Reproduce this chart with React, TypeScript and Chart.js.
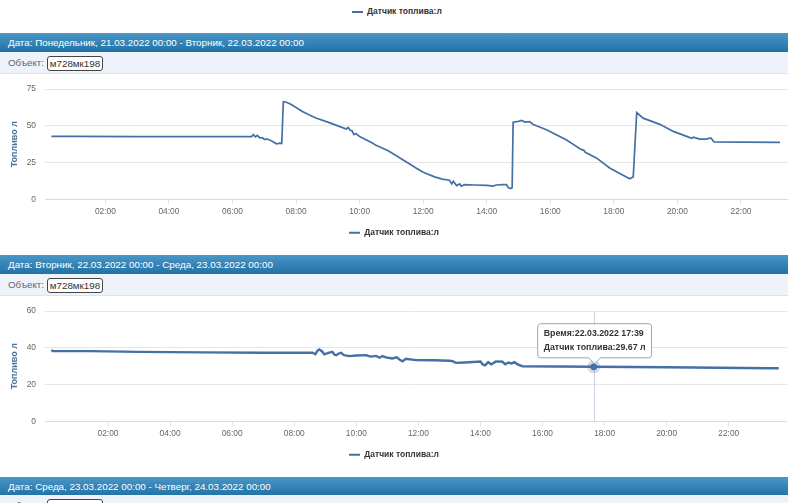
import React, { useEffect, useRef } from "react";
import { Chart, registerables } from "chart.js";

Chart.register(...registerables);

const SERIES_LABEL = "Датчик топлива:л";
const Y_TITLE = "Топливо л";
const OBJECT_LABEL = "Объект:";
const OBJECT_NAME = "м728мк198";
const HEADERS = [
  "Дата: Понедельник, 21.03.2022 00:00 - Вторник, 22.03.2022 00:00",
  "Дата: Вторник, 22.03.2022 00:00 - Среда, 23.03.2022 00:00",
  "Дата: Среда, 23.03.2022 00:00 - Четверг, 24.03.2022 00:00",
];
const TICK_HOURS = [2, 4, 6, 8, 10, 12, 14, 16, 18, 20, 22];

// Day 1: 21.03.2022
const DAY1_HOURS = [
  0.3, 1.0, 3.0, 5.0, 6.6, 6.65, 6.72, 6.78, 6.85, 6.95, 7.0, 7.1, 7.25, 7.38, 7.5, 7.55,
  7.6, 7.7, 7.85, 8.2, 8.6, 9.0, 9.4, 9.58, 9.64, 9.7, 9.76, 9.82, 9.88, 10.0, 10.4, 10.5,
  10.9, 11.36, 11.8, 12.0, 12.36, 12.6, 12.83, 12.9, 12.95, 13.05, 13.15, 13.2, 13.3, 13.6,
  14.0, 14.2, 14.3, 14.5, 14.62, 14.68, 14.75, 14.8, 14.83, 15.0, 15.1, 15.2, 15.35, 15.45,
  15.88, 16.5, 16.98, 17.05, 17.1, 17.45, 17.87, 18.2, 18.5, 18.61, 18.72, 18.92, 19.45,
  19.87, 20.29, 20.45, 20.5, 20.7, 20.9, 21.05, 21.1, 21.15, 22.0, 23.23,
];
const DAY1_FUEL = [
  42.8, 42.8, 42.7, 42.6, 42.6, 44.0, 42.5, 43.5, 42.0, 41.8, 40.8, 41.0, 39.5, 37.8, 38.2, 38.0,
  66.4, 66.0, 64.5, 59.7, 55.5, 52.5, 49.3, 47.8, 48.8, 47.0, 46.6, 44.0, 44.8, 42.8, 38.3, 37.0,
  33.0, 27.0, 21.0, 18.5, 15.3, 13.8, 13.0, 10.5, 12.3, 9.4, 10.5, 9.0, 10.0, 9.8,
  9.6, 9.0, 9.8, 10.1, 10.0, 8.0, 7.4, 8.0, 52.5, 53.0, 53.6, 52.5, 52.8, 51.1,
  47.3, 40.5, 33.8, 33.5, 32.0, 28.2, 21.4, 17.5, 14.0, 15.3, 59.0, 55.2, 51.0,
  46.2, 42.8, 41.5, 42.3, 41.0, 41.0, 41.8, 40.5, 39.0, 38.9, 38.7,
];
const DAY1_Y_TICKS = [0, 25, 50, 75];
const DAY1_X_MIN = 0.1;
const DAY1_X_MAX = 23.48;

// Day 2: 22.03.2022
const DAY2_HOURS = [
  0.18, 0.22, 1.41, 3.0, 5.0, 7.0, 8.59, 8.68, 8.75, 8.81, 8.9, 8.97, 9.1, 9.23, 9.3, 9.35,
  9.45, 9.51, 9.6, 9.78, 10.0, 10.32, 10.45, 10.64, 10.75, 10.84, 10.95, 11.16, 11.3, 11.4,
  11.49, 11.6, 11.92, 12.5, 13.0, 13.1, 13.21, 13.5, 14.0, 14.07, 14.15, 14.25, 14.35, 14.5,
  14.71, 14.8, 14.9, 15.0, 15.1, 15.2, 15.35, 17.65, 20.0, 23.29, 23.61,
];
const DAY2_FUEL = [
  38.9, 38.2, 38.2, 37.8, 37.5, 37.3, 37.3, 36.5, 38.5, 39.1, 38.0, 36.4, 37.2, 37.8, 36.2, 36.0,
  37.0, 37.3, 36.0, 35.5, 35.8, 36.0, 35.2, 35.6, 34.6, 35.5, 34.8, 34.2, 34.8, 33.5,
  32.7, 34.0, 33.3, 33.2, 33.0, 32.7, 31.8, 32.0, 32.5, 31.0, 30.5, 32.2, 31.0, 32.6,
  32.4, 31.0, 32.0, 31.5, 32.2, 31.0, 30.0, 29.67, 29.4, 28.9, 28.9,
];
const DAY2_Y_TICKS = [0, 20, 40, 60];
const DAY2_X_MIN = -0.03;
const DAY2_X_MAX = 23.87;
const DAY2_TOOLTIP_DATE = "22.03.2022";
const DAY2_TOOLTIP_HOUR = 17.65;

const LINE_COLOR = "#4470a5";
const FONT = "'Liberation Sans', Arial, sans-serif";

Chart.defaults.font.family = FONT;

const pad2 = (n: number) => String(n).padStart(2, "0");
const hourLabel = (h: number) => {
  const mins = Math.round(h * 60);
  return `${pad2(Math.floor(mins / 60))}:${pad2(mins % 60)}`;
};

const hoverMarkPlugin = {
  id: "hoverMark",
  beforeDatasetsDraw(chart: any) {
    const act = chart.getActiveElements();
    if (!act.length) return;
    const el = act[0].element;
    const { ctx, chartArea } = chart;
    ctx.save();
    ctx.strokeStyle = "#c9d3e2";
    ctx.lineWidth = 1;
    ctx.beginPath();
    const x = Math.round(el.x) + 0.5;
    ctx.moveTo(x, chartArea.top);
    ctx.lineTo(x, chartArea.bottom);
    ctx.stroke();
    ctx.fillStyle = "rgba(68,112,165,0.25)";
    ctx.beginPath();
    ctx.arc(el.x, el.y, 6.5, 0, Math.PI * 2);
    ctx.fill();
    ctx.restore();
  },
};

type FuelProps = {
  hours: number[];
  fuel: number[];
  yTicks: number[];
  xMin: number;
  xMax: number;
  lineWidth: number;
  tooltipHour?: number;
  tooltipDate?: string;
};

function FuelChart(p: FuelProps) {
  const ref = useRef<HTMLCanvasElement>(null);
  useEffect(() => {
    const data = p.hours.map((h, i) => ({ x: h, y: p.fuel[i] }));
    const chart = new Chart(ref.current!, {
      type: "line",
      data: {
        datasets: [
          {
            label: SERIES_LABEL,
            data,
            borderColor: LINE_COLOR,
            backgroundColor: LINE_COLOR,
            borderWidth: p.lineWidth,
            pointRadius: 0,
            pointHoverRadius: 3,
            pointHoverBackgroundColor: LINE_COLOR,
            pointHoverBorderColor: LINE_COLOR,
            pointHoverBorderWidth: 1,
            tension: 0,
            fill: false,
          },
        ],
      },
      options: {
        responsive: false,
        animation: false,
        events: [],
        layout: { padding: { top: 15, left: 0, right: 0, bottom: 8 } },
        scales: {
          x: {
            type: "linear",
            min: p.xMin,
            max: p.xMax,
            afterBuildTicks: (s: any) => {
              s.ticks = TICK_HOURS.map((v) => ({ value: v }));
            },
            ticks: {
              callback: (v: any) => hourLabel(Number(v)),
              font: { size: 8.4 },
              color: "#666",
              padding: 2,
              maxRotation: 0,
              autoSkip: false,
            },
            grid: { drawOnChartArea: false, drawTicks: true, tickLength: 5, color: "#dde3ec" },
            border: { display: true, color: "#d3dbe6" },
          },
          y: {
            min: 0,
            max: p.yTicks[p.yTicks.length - 1],
            afterBuildTicks: (s: any) => {
              s.ticks = p.yTicks.map((v) => ({ value: v }));
            },
            afterFit: (s: any) => {
              s.width = 45;
            },
            ticks: { font: { size: 8.4 }, color: "#666", padding: 9 },
            grid: { color: "#e6e6e6", drawTicks: false },
            border: { display: false },
            title: {
              display: true,
              text: Y_TITLE,
              color: "#4d759e",
              font: { size: 9, weight: "bold" },
              padding: { top: 9, bottom: 0 },
            },
          },
        },
        plugins: {
          legend: {
            position: "bottom",
            labels: {
              boxWidth: 11,
              boxHeight: 2,
              color: "#333",
              font: { size: 8.5, weight: "bold" },
              padding: 10,
              generateLabels: (c: any) =>
                c.data.datasets.map((ds: any, i: number) => ({
                  text: ds.label,
                  fillStyle: LINE_COLOR,
                  strokeStyle: LINE_COLOR,
                  lineWidth: 0,
                  hidden: false,
                  datasetIndex: i,
                  fontColor: "#333",
                })),
            },
          },
          tooltip: {
            enabled: true,
            yAlign: "bottom",
            xAlign: "center",
            backgroundColor: "rgba(255,255,255,0.93)",
            borderColor: "#8ea6c8",
            borderWidth: 1,
            cornerRadius: 3,
            caretSize: 6,
            caretPadding: 3,
            padding: { x: 6, y: 5 },
            displayColors: false,
            titleColor: "#333",
            bodyColor: "#333",
            titleFont: { size: 8.8, weight: "bold" },
            bodyFont: { size: 8.8, weight: "bold" },
            titleMarginBottom: 3,
            callbacks: {
              title: (items: any[]) =>
                `Время:${p.tooltipDate} ${hourLabel(items[0].parsed.x)}`,
              label: (item: any) => `Датчик топлива:${item.parsed.y.toFixed(2)} л`,
            },
          },
        },
      },
      plugins: [hoverMarkPlugin],
    } as any);
    if (p.tooltipHour !== undefined) {
      const idx = p.hours.indexOf(p.tooltipHour);
      const els = [{ datasetIndex: 0, index: idx }];
      chart.setActiveElements(els);
      chart.tooltip!.setActiveElements(els, { x: 0, y: 0 });
      chart.update();
    }
    return () => chart.destroy();
  }, []);
  return (
    <canvas
      ref={ref}
      width={788}
      height={181}
      style={{ display: "block", width: 788, height: 181 }}
    />
  );
}

const textFont = `9.8px ${FONT}`;

function Header({ top, text }: { top: number; text: string }) {
  return (
    <div
      style={{
        position: "absolute",
        left: 0,
        top,
        width: 788,
        height: 19,
        background: "linear-gradient(#4a97c8, #2271a6)",
        color: "#fff",
        font: textFont,
        lineHeight: "19px",
        paddingLeft: 8,
        boxSizing: "border-box",
        whiteSpace: "nowrap",
      }}
    >
      {text}
    </div>
  );
}

function ObjectBar({ top }: { top: number }) {
  return (
    <div
      style={{
        position: "absolute",
        left: 0,
        top,
        width: 788,
        height: 22,
        background: "#edf2fb",
        borderBottom: "1px solid #dde3ec",
        boxSizing: "border-box",
        font: textFont,
      }}
    >
      <span style={{ position: "absolute", left: 8, top: 0, lineHeight: "21px", color: "#666" }}>
        {OBJECT_LABEL}
      </span>
      <span
        style={{
          position: "absolute",
          left: 47,
          top: 4,
          width: 56,
          height: 15,
          border: "1px solid #444",
          borderRadius: 3,
          background: "#fff",
          boxSizing: "border-box",
          textAlign: "center",
          lineHeight: "13px",
          color: "#333",
        }}
      >
        {OBJECT_NAME}
      </span>
    </div>
  );
}

function TopLegend() {
  return (
    <>
      <div
        style={{ position: "absolute", left: 352, top: 11, width: 11, height: 2, background: LINE_COLOR }}
      />
      <span
        style={{
          position: "absolute",
          left: 367,
          top: 6,
          lineHeight: "12px",
          font: `bold 8.5px ${FONT}`,
          color: "#333",
          whiteSpace: "nowrap",
        }}
      >
        {SERIES_LABEL}
      </span>
    </>
  );
}

export default function App() {
  return (
    <div
      style={{
        position: "absolute",
        left: 0,
        top: 0,
        width: 788,
        height: 503,
        overflow: "hidden",
        background: "#fff",
      }}
    >
      <TopLegend />
      <Header top={33} text={HEADERS[0]} />
      <ObjectBar top={52} />
      <div style={{ position: "absolute", left: 0, top: 74 }}>
        <FuelChart
          hours={DAY1_HOURS}
          fuel={DAY1_FUEL}
          yTicks={DAY1_Y_TICKS}
          xMin={DAY1_X_MIN}
          xMax={DAY1_X_MAX}
          lineWidth={1.7}
        />
      </div>
      <Header top={255} text={HEADERS[1]} />
      <ObjectBar top={274} />
      <div style={{ position: "absolute", left: 0, top: 296 }}>
        <FuelChart
          hours={DAY2_HOURS}
          fuel={DAY2_FUEL}
          yTicks={DAY2_Y_TICKS}
          xMin={DAY2_X_MIN}
          xMax={DAY2_X_MAX}
          lineWidth={2.4}
          tooltipHour={DAY2_TOOLTIP_HOUR}
          tooltipDate={DAY2_TOOLTIP_DATE}
        />
      </div>
      <Header top={477} text={HEADERS[2]} />
      <ObjectBar top={495} />
    </div>
  );
}
